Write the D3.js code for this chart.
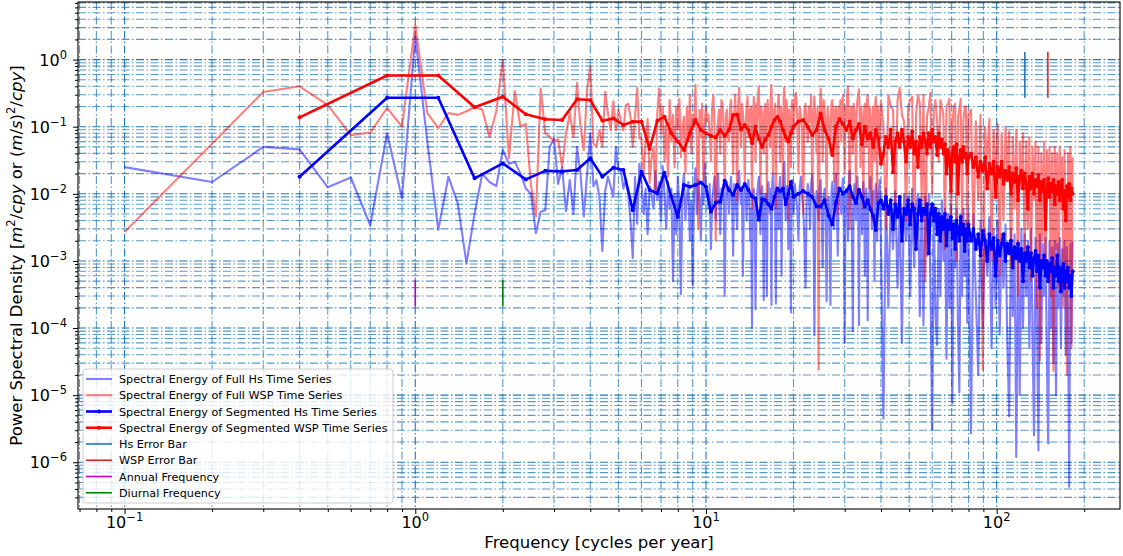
<!DOCTYPE html>
<html>
<head>
<meta charset="utf-8">
<script src="https://cdn.jsdelivr.net/npm/d3@7"></script>
<style>
body { margin: 0; background: #fff; }
text { font-family: "DejaVu Sans", sans-serif; fill: #000; }
</style>
</head>
<body>
<svg id="chart" width="1123" height="556"></svg>
<script>
// frequency bins (cycles per year) of the full-record spectra
var fFull = [0.1,0.2,0.3,0.4,0.5,0.6,0.7,0.8,0.9,1,1.1,1.2,1.3,1.4,1.5,1.6,1.7,1.8,1.9,2,
  2.1,2.2,2.3,2.4,2.5,2.6,2.7,2.8,2.9,3,3.1,3.2,3.3,3.4,3.5,3.6,3.7,3.8,3.9,4,
  4.1,4.2,4.3,4.4,4.5,4.6,4.7,4.8,4.9,5,5.1,5.2,5.3,5.4,5.5,5.6,5.7,5.8,5.9,6,
  6.1,6.2,6.3,6.4,6.5,6.6,6.7,6.8,6.9,7,7.1,7.2,7.3,7.4,7.5,7.6,7.7,7.8,7.9,8,
  8.1,8.2,8.3,8.4,8.5,8.6,8.7,8.8,8.9,9,9.1,9.2,9.3,9.4,9.5,9.6,9.7,9.8,9.9,10,
  10.1,10.2,10.3,10.4,10.5,10.6,10.7,10.8,10.9,11,11.1,11.2,11.3,11.4,11.5,11.6,11.7,11.8,11.9,12,
  12.1,12.2,12.3,12.4,12.5,12.6,12.7,12.8,12.9,13,13.1,13.2,13.3,13.4,13.5,13.6,13.7,13.8,13.9,14,
  14.1,14.2,14.3,14.4,14.5,14.6,14.7,14.8,14.9,15,15.1,15.2,15.3,15.4,15.5,15.6,15.7,15.8,15.9,16,
  16.1,16.2,16.3,16.4,16.5,16.6,16.7,16.8,16.9,17,17.1,17.2,17.3,17.4,17.5,17.6,17.7,17.8,17.9,18,
  18.1,18.2,18.3,18.4,18.5,18.6,18.7,18.8,18.9,19,19.1,19.2,19.3,19.4,19.5,19.6,19.7,19.8,19.9,20,
  20.2,20.4,20.6,20.8,21,21.2,21.4,21.6,21.8,22,22.2,22.4,22.6,22.8,23,23.2,23.4,23.6,23.8,24,
  24.2,24.4,24.6,24.8,25,25.2,25.4,25.6,25.8,26,26.2,26.4,26.6,26.8,27,27.2,27.4,27.6,27.8,28,
  28.2,28.4,28.6,28.8,29,29.2,29.4,29.6,29.8,30,30.2,30.4,30.6,30.8,31,31.2,31.4,31.6,31.8,32,
  32.2,32.4,32.6,32.8,33,33.2,33.4,33.6,33.8,34,34.2,34.4,34.6,34.8,35,35.2,35.4,35.6,35.8,36,
  36.2,36.4,36.6,36.8,37,37.2,37.4,37.6,37.8,38,38.2,38.4,38.6,38.8,39,39.2,39.4,39.6,39.8,40,
  40.8,41.6,42.4,43.2,44,44.8,45.6,46.4,47.2,48,48.8,49.6,50.4,51.2,52,52.8,53.6,54.4,55.2,56,
  56.8,57.6,58.4,59.2,60,60.8,61.6,62.4,63.2,64,64.8,65.6,66.4,67.2,68,68.8,69.6,70.4,71.2,72,
  72.8,73.6,74.4,75.2,76,76.8,77.6,78.4,79.2,80,
  81.6,83.2,84.8,86.4,88,89.6,91.2,92.8,94.4,96,97.6,99.2,100.8,102.4,104,105.6,107.2,108.8,110.4,112,
  113.6,115.2,116.8,118.4,120,121.6,123.2,124.8,126.4,128,129.6,131.2,132.8,134.4,136,137.6,139.2,140.8,142.4,144,
  145.6,147.2,148.8,150.4,152,153.6,155.2,156.8,158.4,160,161.6,163.2,164.8,166.4,168,169.6,171.2,172.8,174.4,176,
  177.6,179.2,180.8,182.4];

var hsFull = [2.5e-2,1.5e-2,5e-2,4.6e-2,1.25e-2,1.75e-2,3.4e-3,8e-2,8.6e-3,2.2,
  6e-2,2.9e-3,1.8e-2,7.2e-3,9.2e-4,5.1e-3,2e-2,1.5e-2,1.3e-2,4.5e-2,
  2.8e-2,3e-2,2e-2,1.2e-2,1e-2,2.6e-3,5.4e-3,5.7e-3,5e-2,6.7e-2,
  1.4e-2,2.5e-2,5.5e-3,1.6e-2,5e-3,5e-2,2e-2,4.6e-3,2e-2,8e-2,
  1.3e-2,1.6e-2,9e-3,1.4e-3,1.1e-2,1.8e-2,1.3e-2,9e-3,5e-2,2.2e-2,
  2.2e-2,1.2e-2,1.6e-2,1e-2,4e-3,1.1e-3,1.8e-2,3.6e-3,2.8e-2,1.5e-2,
  5e-3,1.2e-2,2.5e-3,1.3e-2,1e-2,6e-3,2.2e-2,8e-3,1.5e-2,4e-3,
  2.6e-2,1e-2,3e-3,1.5e-2,6e-3,1.2e-2,5e-4,1e-2,2.5e-3,1.8e-2,
  6e-3,3.2e-4,1.2e-2,2e-2,4e-3,9e-3,1.5e-2,2e-3,8e-3,4.3e-4,
  1.2e-2,2.4e-2,5e-3,1.6e-2,9e-3,2e-3,1.4e-2,7e-3,2.8e-2,1.1e-2,
  1e-2,6e-3,1.4e-2,1.5e-3,8e-3,1.2e-2,1.8e-2,4e-3,1e-2,2e-2,
  8e-3,2.5e-3,1.2e-2,8e-3,1.4e-2,3e-4,9e-3,1.5e-2,1e-2,5e-3,
  1.2e-2,1.8e-2,7e-3,1.2e-3,1.4e-2,1e-2,6e-3,3e-3,1.5e-2,2.2e-2,
  1e-2,7e-3,1.2e-2,6e-4,8e-3,1.4e-2,1e-2,4e-3,1.2e-2,1.6e-2,
  8e-3,2e-3,6e-3,1e-4,1e-2,1.2e-2,7e-3,1.9e-4,5e-3,9e-3,
  1.4e-2,1.8e-2,9e-3,2.5e-3,1e-2,1.3e-2,6e-3,2.6e-4,8e-3,1e-2,
  5e-3,3e-4,1e-2,1.5e-2,8e-3,5e-3,1.2e-2,2.2e-4,1.4e-2,2e-2,
  1.2e-2,8e-3,6e-3,2.3e-4,9e-3,1.2e-2,1e-2,3e-3,1.4e-2,1.8e-2,
  9e-3,6e-4,1.2e-2,1e-2,2e-2,3e-2,1.2e-2,4e-3,8e-3,1.3e-2,
  7e-3,1.5e-3,1e-2,9e-3,5e-3,1.7e-4,1e-2,1.6e-2,8e-3,5e-3,
  1.4e-2,1e-2,6e-3,2e-3,1.2e-2,1.8e-2,9e-3,6e-3,2e-3,4e-4,
  8e-3,1.4e-2,1e-2,3e-3,1.4e-2,2e-2,9e-3,7.8e-5,6e-3,1.1e-2,
  8e-3,4e-3,1.2e-2,1.6e-2,5e-3,8e-4,9e-3,1.2e-2,6e-3,2.5e-4,
  7e-3,9e-3,5e-3,2.2e-4,1e-2,1.5e-2,8e-3,3e-3,1.4e-2,2e-2,
  6e-3,1.2e-3,8e-3,1e-2,9e-3,5e-3,1.2e-2,1.7e-2,3e-3,6e-5,
  8e-3,1.2e-2,9e-3,2e-3,1.5e-2,2.2e-2,1e-2,7e-3,2e-3,9e-5,
  9e-3,1.4e-2,8e-3,4e-3,1.2e-2,1.8e-2,6e-3,1.1e-4,8e-3,1e-2,
  7e-3,2.5e-3,1e-2,1.5e-2,8e-3,6e-4,9e-3,1.2e-2,4e-3,1.3e-4,
  6e-3,8e-3,1.2e-2,1.8e-2,8e-3,3e-3,9e-3,1.1e-2,6e-3,5e-4,
  1e-2,1.4e-2,7e-3,2e-3,6e-3,9e-3,1.2e-2,1.6e-2,5e-3,1.5e-3,
  4.5e-6,1.2e-2,2e-4,8e-3,1.5e-3,1.1e-2,4e-4,7e-3,6e-5,1e-2,
  2e-3,9e-3,3e-4,1.2e-2,8e-4,6e-3,1e-2,1.5e-4,8e-3,1.1e-4,
  9e-3,1.2e-3,1e-2,4e-4,3e-6,7e-3,1.5e-4,5.6e-5,6e-3,3e-4,
  8e-3,1e-3,6e-3,3.5e-5,5e-3,2e-4,7e-3,7.6e-6,4e-3,8e-4,
  6e-3,1e-4,1.1e-5,5e-3,3e-4,6e-3,6e-4,4e-3,1.2e-4,5e-3,
  2.7e-6,5e-3,3e-4,2e-5,4e-3,1e-4,3e-3,6e-4,4.5e-3,5e-5,
  3e-3,2e-4,4e-3,8e-5,2.5e-3,4e-4,3.5e-3,6e-5,4.8e-6,3e-3,
  1.5e-4,2.5e-3,1.2e-6,2e-3,1e-5,3e-3,1e-4,2.5e-3,3e-4,2e-3,
  5e-5,3e-3,1e-4,2.5e-6,2.2e-3,2e-4,1.5e-6,2.5e-3,6e-5,1.8e-3,
  3e-4,2.2e-3,4e-5,1.9e-6,2e-3,1e-4,1.6e-3,3e-5,2e-3,1e-5,
  1.8e-3,2e-4,2.2e-3,5e-5,1.5e-3,3e-4,2e-3,4e-5,1.6e-3,1.5e-4,
  4.3e-7,1.8e-3,6e-5,2e-3];

var wspFull = [2.7e-3,5.6e-2,0.33,0.4,0.21,7.5e-2,8.2e-2,0.19,0.1,3.3,
  0.16,9.5e-2,0.16,0.15,0.17,0.195,0.18,7.1e-2,0.17,0.99,
  3.4e-2,0.34,0.1,0.11,1.35e-2,4.6e-3,0.37,8e-2,7.1e-2,6e-2,
  6.5e-2,2.5e-2,8e-2,0.16,7e-2,0.45,0.1,4.5e-2,0.37,0.78,
  5.6e-2,5e-2,8.9e-2,5e-2,0.33,0.16,8.9e-2,0.24,8.9e-2,0.18,
  0.12,8.9e-2,0.21,0.22,0.14,5e-2,0.14,0.38,6.7e-2,6.7e-2,
  2e-2,6e-2,0.13,1.45e-2,3.5e-2,5e-2,1e-2,0.16,0.37,8e-2,
  0.2,3e-2,0.12,1.8e-2,0.25,6e-2,0.15,2.5e-2,0.2,9e-2,
  0.26,3.5e-2,0.1,0.14,2e-2,0.2,6e-2,0.3,4e-2,0.15,
  0.1,0.42,5e-2,3e-3,0.18,7e-2,0.22,1.5e-2,0.12,0.2,
  0.12,0.15,0.08,3e-2,0.2,0.3,0.1,2e-3,0.06,0.12,
  0.18,4e-2,0.25,0.22,0.09,1.2e-2,0.15,0.18,0.07,6e-2,
  0.2,0.25,0.1,2e-2,0.14,0.3,0.12,8e-3,0.2,0.38,
  0.15,5e-2,0.22,0.16,0.08,1.5e-2,0.12,0.2,0.28,7e-2,
  0.18,0.12,0.2,6e-3,0.1,0.28,0.15,3e-2,0.22,0.1,
  0.3,0.4,0.12,1e-2,0.2,0.15,0.09,4e-2,0.18,0.22,
  0.12,8e-3,0.25,0.12,0.16,5e-2,0.3,0.42,0.1,2e-2,
  0.15,0.18,0.22,6e-3,0.14,0.1,0.25,0.3,0.08,3e-2,
  0.2,0.15,0.1,1.2e-2,0.3,0.39,0.12,6e-2,0.25,0.2,
  0.15,4e-3,0.18,0.13,0.08,2.5e-2,0.2,0.25,0.12,8e-2,
  0.25,0.32,0.15,2e-2,0.2,0.15,0.1,5e-3,0.18,0.22,
  0.12,6e-2,0.2,0.12,0.3,1e-2,0.15,0.28,0.12,4e-2,
  0.2,2.4e-5,0.15,0.37,0.2,3e-2,0.25,0.18,0.1,8e-3,
  0.2,0.14,0.12,4e-2,0.22,0.25,0.15,1.5e-2,0.18,0.2,
  0.1,5e-3,0.2,0.15,0.25,6e-2,0.18,0.3,0.12,2e-2,
  0.2,0.12,0.3,0.4,0.1,3e-3,0.15,0.2,0.18,4e-2,
  0.22,0.16,0.12,1e-2,0.2,0.25,0.3,0.36,0.12,2.5e-2,
  0.2,0.14,0.1,6e-3,0.18,0.22,0.15,5e-2,0.25,0.3,
  0.12,1.2e-2,0.2,0.12,0.1,4e-3,0.15,0.2,0.18,3e-2,
  0.22,0.28,0.12,8e-3,0.2,0.15,0.12,6e-2,0.18,0.24,
  0.1,3e-3,0.3,0.2,0.18,6e-3,0.25,0.38,0.15,0.12,
  4e-3,0.2,0.25,0.28,2e-3,0.15,0.3,0.22,8e-3,0.3,
  5e-4,0.14,0.2,0.32,1e-2,0.18,0.25,0.12,3e-2,0.25,
  0.2,0.15,1.5e-3,0.2,0.22,0.26,4e-3,0.1,0.2,0.22,
  1e-3,0.14,0.18,0.26,3e-3,0.12,0.2,0.2,2e-3,0.15,
  0.18,2e-3,0.12,8e-3,0.15,2.4e-5,0.1,3e-2,0.13,1e-3,
  9e-2,1.5e-2,0.11,6e-4,8e-2,4e-3,0.1,2e-2,8.5e-2,8e-4,
  7e-2,6e-3,9e-2,3e-4,6e-2,1.2e-2,8e-2,1e-3,6e-2,3e-3,
  7e-2,5e-4,5e-2,8e-3,6e-2,2e-4,5e-2,3.3e-5,4e-2,2e-3,
  6e-2,6e-4,4.5e-2,1e-2,5e-2,3e-4,4e-2,2.3e-5,5e-2,1.5e-3,
  4e-2,4e-4,5e-2,6e-3,3.5e-2,2e-4,4.5e-2,2e-3,2e-5,4e-2,
  1e-3,5e-2,5e-5,3.5e-2];

// frequency bins of the segment-averaged spectra
var fSeg = [0.4,0.8,1.2,1.6,2,2.4,2.8,3.2,3.6,4,4.4,4.8,5.2,5.6,6,6.4,6.8,7.2,7.6,8,8.4,8.8,9.2,9.6,10,
  10.4,10.8,11.2,11.6,12,12.4,12.8,13.2,13.6,14,14.4,14.8,15.2,15.6,16,16.4,16.8,17.2,17.6,18,18.4,18.8,19.2,19.6,20,
  20.8,21.6,22.4,23.2,24,24.8,25.6,26.4,27.2,28,28.8,29.6,30.4,31.2,32,32.8,33.6,34.4,35.2,36,36.8,37.6,38.4,39.2,40,
  40.8,41.6,42.4,43.2,44,44.8,45.6,46.4,47.2,48,48.8,49.6,50.4,51.2,52,52.8,53.6,54.4,55.2,56,
  56.8,57.6,58.4,59.2,60,60.8,61.6,62.4,63.2,64,64.8,65.6,66.4,67.2,68,68.8,69.6,70.4,71.2,72,
  72.8,73.6,74.4,75.2,76,76.8,77.6,78.4,79.2,80,
  81.6,83.2,84.8,86.4,88,89.6,91.2,92.8,94.4,96,97.6,99.2,100.8,102.4,104,105.6,107.2,108.8,110.4,112,
  113.6,115.2,116.8,118.4,120,121.6,123.2,124.8,126.4,128,129.6,131.2,132.8,134.4,136,137.6,139.2,140.8,142.4,144,
  145.6,147.2,148.8,150.4,152,153.6,155.2,156.8,158.4,160,161.6,163.2,164.8,166.4,168,169.6,171.2,172.8,174.4,176,
  177.6,179.2,180.8,182.4];

var hsSeg = [1.8e-2,0.27,0.27,1.7e-2,2.84e-2,1.64e-2,2.2e-2,2.16e-2,2.26e-2,3.4e-2,
  1.8e-2,2.45e-2,2.26e-2,5.7e-3,2.14e-2,1.14e-2,1.02e-2,2.06e-2,9.1e-3,4.5e-3,
  1.35e-2,1.28e-2,1.35e-2,1.47e-2,1.28e-2,
  5.4e-3,7.4e-3,7.6e-3,1.57e-2,1.14e-2,9.6e-3,1.35e-2,1.14e-2,1.4e-2,1.14e-2,9.1e-3,8.5e-3,4.1e-3,
  8.3e-3,8e-3,7e-3,6e-3,9e-3,1.2e-2,1.1e-2,1.2e-2,7e-3,1e-2,1.5e-2,9e-3,
  1e-2,1.1e-2,1e-2,9e-3,6.5e-3,6.5e-3,8e-3,4.8e-3,3.5e-3,7.4e-3,1.2e-2,1e-2,1.1e-2,1.3e-2,9e-3,
  7.3e-3,1.15e-2,9e-3,6.5e-3,8e-3,5.9e-3,4.7e-3,2.9e-3,7.3e-3,8e-3,
  6e-3,9e-3,5e-3,8e-3,3e-3,7e-3,4.5e-3,9e-3,2e-3,6e-3,
  5e-3,8e-3,3.5e-3,7e-3,6e-3,1.5e-3,5e-3,8e-3,4e-3,6e-3,
  5e-3,7e-3,1.3e-3,5e-3,7e-3,4e-3,6e-3,2.5e-3,5e-3,2e-3,
  4.5e-3,3e-3,5e-3,1.7e-3,4e-3,3e-3,4.5e-3,2.2e-3,3.5e-3,1.5e-3,
  4e-3,3e-3,2e-3,4.5e-3,2.5e-3,3.5e-3,1.4e-3,3e-3,2e-3,3.5e-3,
  2e-3,3e-3,1.5e-3,2.5e-3,1.2e-3,2.8e-3,2e-3,1e-3,2.5e-3,1.5e-3,
  2.2e-3,6e-4,2e-3,1.2e-3,1.8e-3,2.5e-3,1e-3,1.8e-3,1.3e-3,2e-3,
  8e-4,1.6e-3,1.1e-3,1.8e-3,1e-3,1.5e-3,5e-4,1.3e-3,1e-3,1.6e-3,
  8e-4,1.3e-3,6e-4,1.1e-3,1.4e-3,7e-4,1.2e-3,4e-4,1e-3,8e-4,
  1.2e-3,6e-4,1e-3,5e-4,9e-4,7e-4,1.1e-3,4e-4,8e-4,6e-4,
  1.2e-3,5e-4,8e-4,3.5e-4,7e-4,9e-4,4e-4,7e-4,5e-4,8e-4,
  4e-4,6e-4,3e-4,7e-4];

var wspSeg = [0.138,0.58,0.58,0.195,0.28,0.153,0.129,0.126,0.256,0.25,
  0.123,0.133,0.106,0.119,0.119,4.65e-2,0.123,0.141,8e-2,6e-2,
  4.5e-2,8e-2,0.126,8.9e-2,8e-2,
  7.3e-2,6.9e-2,8.9e-2,7.3e-2,8.9e-2,0.149,0.152,9.1e-2,0.106,8.9e-2,5.7e-2,0.1,6.5e-2,
  5e-2,6.5e-2,7.5e-2,0.1,0.126,0.14,0.12,9e-2,7e-2,6e-2,8e-2,0.1,
  0.12,0.126,0.1,7.5e-2,8.9e-2,0.158,8.9e-2,6.7e-2,3.8e-2,0.1,0.13,0.11,8.9e-2,0.12,6.7e-2,
  8.9e-2,0.11,5.5e-2,0.1,6.7e-2,8e-2,5e-2,8.9e-2,6.7e-2,2.8e-2,
  4e-2,7e-2,5e-2,9e-2,2.1e-2,6e-2,8e-2,5e-2,9e-2,6e-2,
  3e-2,7e-2,5e-2,8.5e-2,4e-2,6e-2,2.5e-2,7e-2,5e-2,8e-2,
  6e-2,4e-2,8e-2,5e-2,9e-2,6e-2,7e-2,3.8e-2,8e-2,5e-2,
  6.5e-2,4e-2,5.5e-2,2e-2,4.5e-2,3.5e-2,1.1e-2,4e-2,5e-2,3e-2,
  5.5e-2,1e-2,3.5e-2,4.5e-2,3e-2,5e-2,3.5e-2,4e-2,2e-2,3.5e-2,
  4e-2,2.5e-2,3.5e-2,1.8e-2,3e-2,2.2e-2,3.5e-2,1.2e-2,2.8e-2,2e-2,
  3e-2,9e-3,2.5e-2,1.8e-2,3e-2,1.4e-2,2.2e-2,1.6e-2,2.5e-2,1e-2,
  2e-2,1.5e-2,2.4e-2,8e-3,1.8e-2,2.2e-2,1.2e-2,2e-2,1.4e-2,6e-3,
  1.8e-2,1.2e-2,2e-2,1e-2,1.6e-2,1.3e-2,1.9e-2,8e-3,1.5e-2,1.1e-2,
  1.6e-2,3e-3,1.2e-2,1.7e-2,9e-3,1.4e-2,1.1e-2,1.6e-2,7e-3,1.3e-2,
  1e-2,1.5e-2,8e-3,1.2e-2,1.6e-2,6e-3,1.1e-2,4e-3,1.3e-2,9e-3,
  1.4e-2,8e-3,1.2e-2,1e-2];

// error bars, annual / diurnal markers
var errFreq = [125, 150];
var errLow = [0.27, 0.27];
var errHigh = [1.3, 1.3];
var markFreq = [1, 2];
var markLow = [2.1e-4, 2.1e-4];
var markHigh = [5.2e-4, 5.2e-4];

var xTicks = [0.1, 1, 10, 100];
var xTickExp = ["\u22121", "0", "1", "2"];
var yTicks = [1, 1e-1, 1e-2, 1e-3, 1e-4, 1e-5, 1e-6];
var yTickExp = ["0", "\u22121", "\u22122", "\u22123", "\u22124", "\u22125", "\u22126"];

var legendLabels = ["Spectral Energy of Full Hs Time Series",
  "Spectral Energy of Full WSP Time Series",
  "Spectral Energy of Segmented Hs Time Series",
  "Spectral Energy of Segmented WSP Time Series",
  "Hs Error Bar", "WSP Error Bar", "Annual Frequency", "Diurnal Frequency"];

var svg = d3.select("#chart");
var pl = 78, pr = 1120, pt = 2, pb = 509;

var x = d3.scaleLog().domain([0.06915, 265.6]).range([pl, pr]);
var y = d3.scaleLog().domain([2.01e-7, 7.22]).range([pb, pt]);

function isMajor(v) {
  var l = Math.log10(v);
  return Math.abs(l - Math.round(l)) < 1e-6;
}

// grid
var gridCol = "#1f77b4";
var dash = "8,2.5,1.5,2.5";
var grid = svg.append("g");
grid.selectAll(".gx").data(x.ticks()).enter().append("line")
  .attr("x1", function(d) { return x(d); }).attr("x2", function(d) { return x(d); })
  .attr("y1", pt).attr("y2", pb)
  .attr("stroke", gridCol).attr("stroke-width", 1.1)
  .attr("stroke-dasharray", dash)
  .attr("stroke-opacity", function(d) { return isMajor(d) ? 1 : 0.75; });
grid.selectAll(".gy").data(y.ticks()).enter().append("line")
  .attr("y1", function(d) { return y(d); }).attr("y2", function(d) { return y(d); })
  .attr("x1", pl).attr("x2", pr)
  .attr("stroke", gridCol).attr("stroke-width", 1.1)
  .attr("stroke-dasharray", dash)
  .attr("stroke-opacity", function(d) { return isMajor(d) ? 1 : 0.75; });

svg.append("clipPath").attr("id", "plotclip").append("rect")
  .attr("x", pl).attr("y", pt).attr("width", pr - pl).attr("height", pb - pt);

var plot = svg.append("g").attr("clip-path", "url(#plotclip)");

function pairs(fs, vs) {
  return fs.map(function(f, i) { return [f, vs[i]]; });
}
var line = d3.line()
  .defined(function(d) { return d[1] > 0; })
  .x(function(d) { return x(d[0]); })
  .y(function(d) { return y(d[1]); });

plot.append("path").datum(pairs(fFull, hsFull))
  .attr("d", line).attr("fill", "none")
  .attr("stroke", "#0000ff").attr("stroke-opacity", 0.5)
  .attr("stroke-width", 2.1).attr("stroke-linejoin", "round");
plot.append("path").datum(pairs(fFull, wspFull))
  .attr("d", line).attr("fill", "none")
  .attr("stroke", "#ff0000").attr("stroke-opacity", 0.5)
  .attr("stroke-width", 2.1).attr("stroke-linejoin", "round");

function segLine(vals, col) {
  var data = pairs(fSeg, vals);
  plot.append("path").datum(data)
    .attr("d", line).attr("fill", "none")
    .attr("stroke", col).attr("stroke-width", 2.6)
    .attr("stroke-linejoin", "round");
  plot.append("g").selectAll("circle").data(data).enter().append("circle")
    .attr("cx", function(d) { return x(d[0]); })
    .attr("cy", function(d) { return y(d[1]); })
    .attr("r", 2).attr("fill", col);
}
segLine(hsSeg, "#0000ff");
segLine(wspSeg, "#ff0000");

// error bars
var errCols = ["#1f77b4", "#d62728"];
plot.selectAll(".err").data(errFreq).enter().append("line")
  .attr("x1", function(d) { return x(d); }).attr("x2", function(d) { return x(d); })
  .attr("y1", function(d, i) { return y(errLow[i]); })
  .attr("y2", function(d, i) { return y(errHigh[i]); })
  .attr("stroke", function(d, i) { return errCols[i]; })
  .attr("stroke-width", 1.6);

var markCols = ["#bf00bf", "#008000"];
plot.selectAll(".mark").data(markFreq).enter().append("line")
  .attr("x1", function(d) { return x(d); }).attr("x2", function(d) { return x(d); })
  .attr("y1", function(d, i) { return y(markLow[i]); })
  .attr("y2", function(d, i) { return y(markHigh[i]); })
  .attr("stroke", function(d, i) { return markCols[i]; })
  .attr("stroke-width", 1.6);

// axes (tick marks only; labels added as text below)
var minorX = x.ticks().filter(function(d) { return !isMajor(d); });
var minorY = y.ticks().filter(function(d) { return !isMajor(d); });

function noDomain(g) { g.select(".domain").remove(); g.selectAll("text").remove(); }

svg.append("g").attr("transform", "translate(0," + pb + ")")
  .call(d3.axisBottom(x).tickValues(xTicks).tickSize(5).tickFormat(""))
  .call(noDomain);
svg.append("g").attr("transform", "translate(0," + pb + ")")
  .call(d3.axisBottom(x).tickValues(minorX).tickSize(3).tickFormat(""))
  .call(noDomain);
svg.append("g").attr("transform", "translate(" + pl + ",0)")
  .call(d3.axisLeft(y).tickValues(yTicks).tickSize(5).tickFormat(""))
  .call(noDomain);
svg.append("g").attr("transform", "translate(" + pl + ",0)")
  .call(d3.axisLeft(y).tickValues(minorY).tickSize(3).tickFormat(""))
  .call(noDomain);
svg.selectAll(".tick line").attr("stroke", "#000").attr("stroke-width", 1);

// frame
svg.append("rect").attr("x", pl).attr("y", pt)
  .attr("width", pr - pl).attr("height", pb - pt)
  .attr("fill", "none").attr("stroke", "#000").attr("stroke-width", 1.1);

// tick labels
var xl = svg.append("g").selectAll("text").data(xTicks).enter().append("text")
  .attr("x", function(d) { return x(d); }).attr("y", 528)
  .attr("text-anchor", "middle").style("font-size", "16px");
xl.append("tspan").text("10");
xl.append("tspan").attr("dy", -7).style("font-size", "11.5px")
  .text(function(d, i) { return xTickExp[i]; });

var yl = svg.append("g").selectAll("text").data(yTicks).enter().append("text")
  .attr("x", 67).attr("y", function(d) { return y(d) + 6; })
  .attr("text-anchor", "end").style("font-size", "16px");
yl.append("tspan").text("10");
yl.append("tspan").attr("dy", -7).style("font-size", "11.5px")
  .text(function(d, i) { return yTickExp[i]; });

// axis titles
svg.append("text").attr("x", (pl + pr) / 2).attr("y", 548)
  .attr("text-anchor", "middle").style("font-size", "16.5px")
  .text("Frequency [cycles per year]");

var yt = svg.append("text")
  .attr("transform", "translate(22," + ((pt + pb) / 2) + ") rotate(-90)")
  .attr("text-anchor", "middle").style("font-size", "16.5px");
var parts = [["Power Spectral Density [", 0], ["m", 1], ["2", 2], ["/", 3], ["cpy", 1],
  [" or (", 0], ["m", 1], ["/", 0], ["s", 1], [")", 0], ["2", 2], ["/", 3], ["cpy", 1], ["]", 0]];
parts.forEach(function(p) {
  var t = yt.append("tspan").text(p[0]);
  if (p[1] === 1) t.style("font-style", "italic");
  if (p[1] === 2) t.attr("dy", -7).style("font-size", "11.5px");
  if (p[1] === 3) t.attr("dy", 7);
});

// legend
var lg = svg.append("g");
lg.append("rect").attr("x", 83).attr("y", 369).attr("width", 310).attr("height", 134)
  .attr("rx", 3).attr("fill", "#fff").attr("fill-opacity", 0.8)
  .attr("stroke", "#cccccc").attr("stroke-width", 1);
var legStyle = [
  {c: "#0000ff", o: 0.5, w: 2.1, m: false},
  {c: "#ff0000", o: 0.5, w: 2.1, m: false},
  {c: "#0000ff", o: 1, w: 2.6, m: true},
  {c: "#ff0000", o: 1, w: 2.6, m: true},
  {c: "#1f77b4", o: 1, w: 1.6, m: false},
  {c: "#d62728", o: 1, w: 1.6, m: false},
  {c: "#bf00bf", o: 1, w: 1.6, m: false},
  {c: "#008000", o: 1, w: 1.6, m: false}
];
var rows = lg.selectAll(".row").data(legendLabels).enter().append("g")
  .attr("transform", function(d, i) { return "translate(0," + (379 + i * 16.25) + ")"; });
rows.append("line").attr("x1", 86).attr("x2", 112).attr("y1", 0).attr("y2", 0)
  .attr("stroke", function(d, i) { return legStyle[i].c; })
  .attr("stroke-opacity", function(d, i) { return legStyle[i].o; })
  .attr("stroke-width", function(d, i) { return legStyle[i].w; });
rows.filter(function(d, i) { return legStyle[i].m; }).append("circle")
  .attr("cx", 99).attr("cy", 0).attr("r", 2)
  .attr("fill", function(d) { return legStyle[legendLabels.indexOf(d)].c; });
rows.append("text").attr("x", 119).attr("y", 4)
  .style("font-size", "11.2px").text(function(d) { return d; });
</script>
</body>
</html>
